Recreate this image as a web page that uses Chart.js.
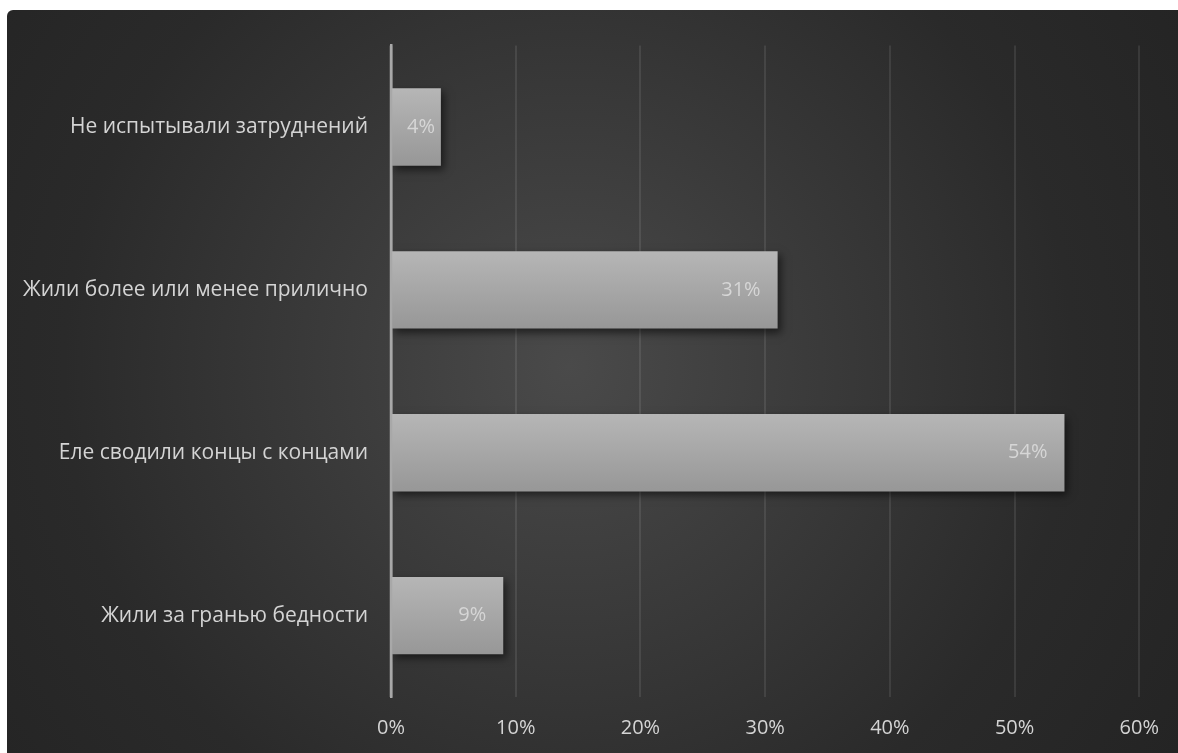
<!DOCTYPE html>
<html>
<head>
<meta charset="utf-8">
<script src="https://cdn.jsdelivr.net/npm/chart.js@4/dist/chart.umd.min.js"></script>
<style>
  html, body { margin: 0; padding: 0; background: #ffffff; width: 1178px; height: 753px; overflow: hidden; }
  #panel {
    position: absolute; left: 7px; top: 10px; width: 1171px; height: 743px;
    border-radius: 6px 0 0 0;
    background: radial-gradient(circle farthest-corner at 48% 48%, #4a4a4a 0%, #3a3a3a 35%, #2a2a2a 70%, #242424 100%);
  }
</style>
</head>
<body>
<div id="panel"><canvas id="c"></canvas></div>
<script>
const categories = [
  'Не испытывали затруднений',
  'Жили более или менее прилично',
  'Еле сводили концы с концами',
  'Жили за гранью бедности'
];
const values = [4, 31, 54, 9];
const xMin = 0, xMax = 60, xStep = 10;

const FONT = '"Open Sans", "DejaVu Sans", sans-serif';
const BAR_PCT = 0.475;

function barFill(context) {
  const chart = context.chart;
  const ys = chart.scales && chart.scales.y;
  if (!ys || !chart.chartArea || context.dataIndex === undefined) return '#aaaaaa';
  const center = ys.getPixelForValue(context.dataIndex);
  const band = (chart.chartArea.bottom - chart.chartArea.top) / categories.length;
  const h = band * BAR_PCT;
  const g = chart.ctx.createLinearGradient(0, center - h / 2, 0, center + h / 2);
  g.addColorStop(0, '#b6b6b6');
  g.addColorStop(1, '#979797');
  return g;
}

const shadowPlugin = {
  id: 'shadow',
  beforeDatasetsDraw(chart) {
    const ctx = chart.ctx;
    ctx.save();
    ctx.shadowColor = 'rgba(0,0,0,0.55)';
    ctx.shadowBlur = 8;
    ctx.shadowOffsetX = 3;
    ctx.shadowOffsetY = 4;
  },
  afterDatasetsDraw(chart) {
    const ctx = chart.ctx;
    ctx.restore();
    const xs = chart.scales.x;
    const area = chart.chartArea;
    const x0 = xs.getPixelForValue(0);
    ctx.save();
    ctx.strokeStyle = '#a8a8a8';
    ctx.lineWidth = 2.5;
    ctx.beginPath();
    ctx.moveTo(x0, area.top);
    ctx.lineTo(x0, area.bottom);
    ctx.stroke();
    const meta = chart.getDatasetMeta(0);
    ctx.fillStyle = '#d6d6d6';
    ctx.font = '20px ' + FONT;
    ctx.textAlign = 'right';
    ctx.textBaseline = 'middle';
    meta.data.forEach((bar, i) => {
      const txt = values[i] + '%';
      const w = ctx.measureText(txt).width;
      const x = Math.max(bar.x - 17, x0 + 16 + w);
      ctx.fillText(txt, x, bar.y);
    });
    ctx.restore();
  }
};

new Chart(document.getElementById('c'), {
  type: 'bar',
  data: {
    labels: categories,
    datasets: [{
      data: values,
      backgroundColor: barFill,
      borderWidth: 0,
      barPercentage: BAR_PCT,
      categoryPercentage: 1.0
    }]
  },
  options: {
    indexAxis: 'y',
    responsive: true,
    maintainAspectRatio: false,
    animation: false,
    layout: { padding: { left: 0, top: 30, right: 38, bottom: 0 } },
    plugins: { legend: { display: false }, tooltip: { enabled: false } },
    scales: {
      x: {
        min: xMin, max: xMax,
        afterFit(scale) { scale.height = 56; },
        ticks: {
          stepSize: xStep,
          callback: v => v + '%',
          color: '#d4d4d4',
          font: { size: 20, family: FONT },
          padding: 19
        },
        grid: {
          color: c => (c.tick && c.tick.value === 0) ? 'rgba(0,0,0,0)' : 'rgba(255,255,255,0.09)',
          lineWidth: 2,
          drawTicks: false
        },
        border: { display: false }
      },
      y: {
        afterFit(scale) { scale.width = 384; },
        ticks: {
          color: '#d4d4d4',
          font: { size: 21, family: FONT },
          padding: 23
        },
        grid: { display: false, drawTicks: false },
        border: { color: '#a8a8a8', width: 2.5 }
      }
    }
  },
  plugins: [shadowPlugin]
});
</script>
</body>
</html>
